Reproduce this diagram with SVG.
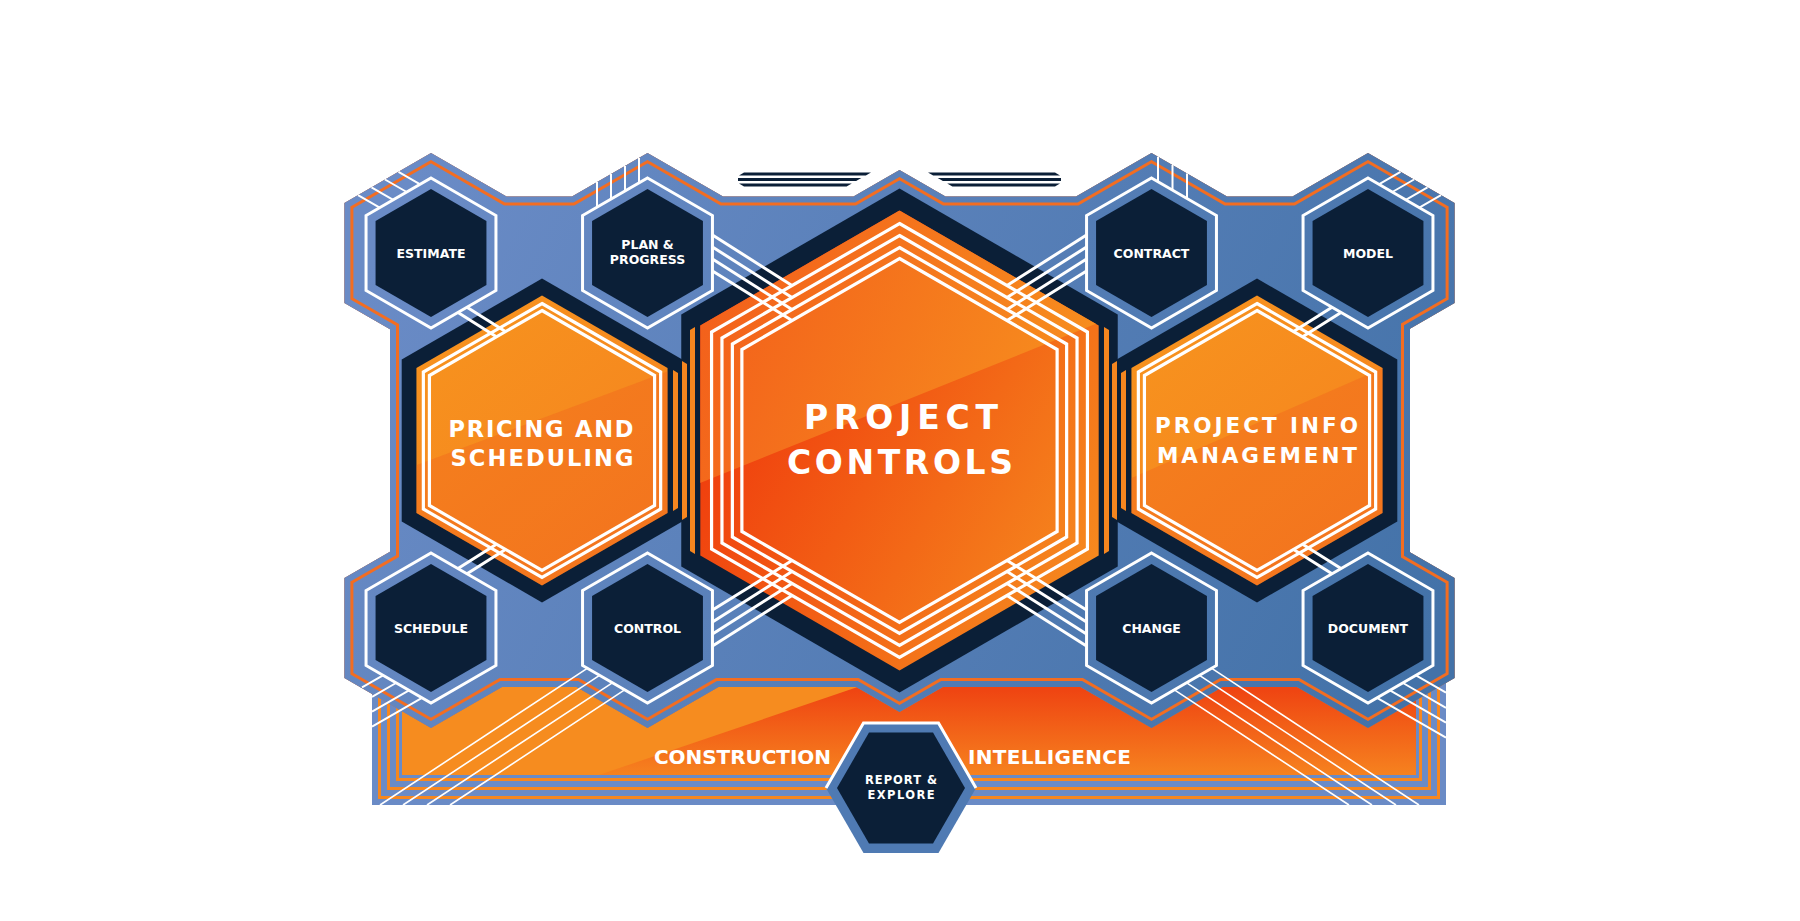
<svg xmlns="http://www.w3.org/2000/svg" xmlns:xlink="http://www.w3.org/1999/xlink" width="1800" height="921" viewBox="0 0 1800 921">
<style>
.navy{fill:#0b1f37}
.ring{fill:none;stroke:#fff;stroke-width:3}
.wl{fill:none;stroke:#fff;stroke-width:3.2}
.cn{fill:none;stroke:#fff;stroke-width:3}
.thin{fill:none;stroke:#fff;stroke-width:1.6}
.deco{fill:none;stroke:#fff;stroke-width:2}
.lbl{font-family:"DejaVu Sans","Liberation Sans",sans-serif;font-weight:bold;fill:#fff;text-anchor:middle}
.s{font-size:12.5px}
.bar{fill:#f6861f}
.pb{fill:#6a8bc6}
.po{fill:#f6871f}
.dash{fill:#0b1f37}
</style>
<defs>
<linearGradient id="gBlue" gradientUnits="userSpaceOnUse" x1="400" y1="200" x2="1400" y2="700">
<stop offset="0" stop-color="#6a8bc6"/><stop offset="1" stop-color="#4372a8"/>
</linearGradient>
<linearGradient id="gMed" x1="0.15" y1="0" x2="0.85" y2="1">
<stop offset="0" stop-color="#f7931e"/><stop offset="1" stop-color="#f5821f"/>
</linearGradient>
<linearGradient id="gCtrLo" x1="0" y1="0.4" x2="0.9" y2="1">
<stop offset="0" stop-color="#ef380c"/><stop offset="1" stop-color="#f68d1f"/>
</linearGradient>
<linearGradient id="gCtrUp" x1="0.1" y1="0.2" x2="1" y2="0.45">
<stop offset="0" stop-color="#f35e1b"/><stop offset="1" stop-color="#f7921e"/>
</linearGradient>
<linearGradient id="gPanel" gradientUnits="userSpaceOnUse" x1="0" y1="690" x2="0" y2="775">
<stop offset="0" stop-color="#ef4512"/><stop offset="1" stop-color="#f6821f"/>
</linearGradient>
<path id="boardPath" d="M431,153 L506.5,196.6 L572,196.6 L647.5,153 L723,196.6 L853.5,196.6 L899.5,170 L945.5,196.6 L1076,196.6 L1151.5,153 L1227,196.6 L1292.5,196.6 L1368,153 L1454.6,203 L1454.6,303 L1410,328.7 L1410,552.2 L1454.6,578 L1454.6,678 L1368,728 L1297,687 L1222.5,687 L1151.5,728 L1080.5,687 L942.8,687 L899.5,712 L856.2,687 L718.5,687 L647.5,728 L576.5,687 L502,687 L431,728 L344.4,678 L344.4,578 L390,551.7 L390,329.3 L344.4,303 L344.4,203 Z"/>
<clipPath id="cBoard"><use xlink:href="#boardPath"/></clipPath>
<polygon id="hO" points="0,-75 64.95,-37.5 64.95,37.5 0,75 -64.95,37.5 -64.95,-37.5"/>
<polygon id="hI" points="0,-64 55.43,-32 55.43,32 0,64 -55.43,32 -55.43,-32"/>
<polygon id="m162" points="0,-162 140.3,-81 140.3,81 0,162 -140.3,81 -140.3,-81"/>
<polygon id="m145" points="0,-145 125.57,-72.5 125.57,72.5 0,145 -125.57,72.5 -125.57,-72.5"/>
<polygon id="m137" points="0,-137 118.65,-68.5 118.65,68.5 0,137 -118.65,68.5 -118.65,-68.5"/>
<polygon id="m130" points="0,-130 112.58,-65 112.58,65 0,130 -112.58,65 -112.58,-65"/>
<clipPath id="cMed"><polygon points="0,-145 125.57,-72.5 125.57,72.5 0,145 -125.57,72.5 -125.57,-72.5"/></clipPath>
<clipPath id="cCtr"><polygon points="0,-230 199.19,-115 199.19,115 0,230 -199.19,115 -199.19,-115"/></clipPath>
</defs>

<rect x="0" y="0" width="1800" height="921" fill="#ffffff"/>

<g id="panel">
<rect class="pb" x="372" y="640" width="1074" height="165"/>
<rect class="po" x="378" y="646" width="1062" height="153"/>
<rect class="pb" x="381" y="649" width="1056" height="147"/>
<rect class="po" x="387" y="655" width="1044" height="135"/>
<rect class="pb" x="390" y="658" width="1038" height="129"/>
<rect class="po" x="396" y="664" width="1026" height="117"/>
<rect class="pb" x="399" y="667" width="1020" height="111"/>
<rect x="402" y="670" width="1014" height="105" fill="url(#gPanel)"/>
<polygon points="402,640 996,640 599,775 402,775" fill="#f68c1f"/>
</g>

<g id="board">
<use xlink:href="#boardPath" fill="url(#gBlue)"/>
<g clip-path="url(#cBoard)">
<use xlink:href="#boardPath" fill="none" stroke="#f36d21" stroke-width="18"/>
<use xlink:href="#boardPath" fill="none" stroke="url(#gBlue)" stroke-width="12"/>
</g>
</g>

<g id="top-dashes">
<polygon class="dash" points="744,172.5 871,172.5 865.8,175.5 739,175.5"/>
<polygon class="dash" points="738,178 861.3,178 856.1,181 738,181"/>
<polygon class="dash" points="739,183.5 851.8,183.5 846.6,186.5 744,186.5"/>
<polygon class="dash" points="1055,172.5 928,172.5 933.2,175.5 1060,175.5"/>
<polygon class="dash" points="1061,178 937.7,178 942.9,181 1061,181"/>
<polygon class="dash" points="1060,183.5 947.2,183.5 952.4,186.5 1055,186.5"/>
</g>

<g id="n-pricing" transform="translate(542,440.5)">
<use xlink:href="#m162" class="navy"/>
<use xlink:href="#m145" fill="url(#gMed)"/>
<polygon points="-150,33.7 150,-78.2 150,170 -150,170" fill="#ee4a1c" opacity="0.25" clip-path="url(#cMed)"/>
<use xlink:href="#m137" class="wl"/>
<use xlink:href="#m130" class="wl"/>
<text class="lbl" x="-1" y="-4" font-size="22.5" textLength="185">PRICING AND</text>
<text class="lbl" x="0" y="25.5" font-size="22.5" textLength="183">SCHEDULING</text>
</g>

<g id="n-project-controls" transform="translate(899.5,440.5)">
<polygon class="navy" points="0,-252 218.24,-126 218.24,126 0,252 -218.24,126 -218.24,-126"/>
<polygon points="0,-230 199.19,-115 199.19,115 0,230 -199.19,115 -199.19,-115" fill="url(#gCtrLo)"/>
<polygon points="-240,58.8 240,-134.2 240,-260 -240,-260" fill="url(#gCtrUp)" clip-path="url(#cCtr)"/>
<polygon class="wl" points="0,-217 187.93,-108.5 187.93,108.5 0,217 -187.93,108.5 -187.93,-108.5"/>
<polygon class="wl" points="0,-205 177.54,-102.5 177.54,102.5 0,205 -177.54,102.5 -177.54,-102.5"/>
<polygon class="wl" points="0,-193 167.14,-96.5 167.14,96.5 0,193 -167.14,96.5 -167.14,-96.5"/>
<polygon class="wl" points="0,-182 157.62,-91 157.62,91 0,182 -157.62,91 -157.62,-91"/>
<text class="lbl" x="1.5" y="-11.5" font-size="33" textLength="194">PROJECT</text>
<text class="lbl" x="0.5" y="33.5" font-size="33" textLength="226">CONTROLS</text>
</g>

<g id="n-pim" transform="translate(1257,440.5)">
<use xlink:href="#m162" class="navy"/>
<use xlink:href="#m145" fill="url(#gMed)"/>
<polygon points="-150,48.3 150,-83 150,170 -150,170" fill="#ee4a1c" opacity="0.25" clip-path="url(#cMed)"/>
<use xlink:href="#m137" class="wl"/>
<use xlink:href="#m130" class="wl"/>
<text class="lbl" x="-0.5" y="-7.5" font-size="21.5" textLength="203">PROJECT INFO</text>
<text class="lbl" x="0" y="22.2" font-size="21.5" textLength="200">MANAGEMENT</text>
</g>

<g id="side-bars">
<polygon class="bar" points="673,370 678,373 678,508 673,511"/>
<polygon class="bar" points="682,361 687,364 687,517 682,520"/>
<polygon class="bar" points="690,330 695,327 695,554 690,551"/>
<polygon class="bar" points="1126,370 1121,373 1121,508 1126,511"/>
<polygon class="bar" points="1117,361 1112,364 1112,517 1117,520"/>
<polygon class="bar" points="1109,330 1104,327 1104,554 1109,551"/>
</g>

<g id="connectors">
<path class="cn" d="M712.5,235 L792,285.5 M712.5,247 L792,297.5 M712.5,259 L792,309.5 M712.5,271 L792,320.5"/>
<path class="cn" d="M1086.5,235 L1007,285.5 M1086.5,247 L1007,297.5 M1086.5,259 L1007,309.5 M1086.5,271 L1007,320.5"/>
<path class="cn" d="M712.5,646 L792,595.5 M712.5,634 L792,583.5 M712.5,622 L792,571.5 M712.5,610 L792,560.5"/>
<path class="cn" d="M1086.5,646 L1007,595.5 M1086.5,634 L1007,583.5 M1086.5,622 L1007,571.5 M1086.5,610 L1007,560.5"/>
<path class="cn" d="M458,312.4 L496,336.5 M467,307.2 L505.4,331.6"/>
<path class="cn" d="M458,568.6 L496,544.5 M467,573.8 L505.4,549.4"/>
<path class="cn" d="M1341,312.4 L1303,336.5 M1332,307.2 L1293.6,331.6"/>
<path class="cn" d="M1341,568.6 L1303,544.5 M1332,573.8 L1293.6,549.4"/>
<path class="thin" d="M587.2,668.3 L380,805 M599.5,675.4 L403,805 M612.3,682.8 L427,805 M624.6,689.9 L450,805"/>
<path class="thin" d="M1211.8,668.3 L1419,805 M1199.5,675.4 L1396,805 M1186.7,682.8 L1372,805 M1174.4,689.9 L1349,805"/>
<path class="deco" d="M358,195.1 L379.7,207.6 M371.5,187.3 L393.2,199.8 M385,179.5 L406.7,192 M398.5,171.8 L420.2,184.3"/>
<path class="deco" d="M1441,195.1 L1419.3,207.6 M1427.5,187.3 L1405.8,199.8 M1414,179.5 L1392.3,192 M1400.5,171.8 L1378.8,184.3"/>
<path class="deco" d="M597,182.1 L597,207.1 M611,174.1 L611,199.1 M625,166 L625,191 M639,157.9 L639,182.9"/>
<path class="deco" d="M1158,156.8 L1158,181.8 M1172.5,165.1 L1172.5,190.1 M1187,173.5 L1187,198.5"/>
<path class="deco" d="M383,675.3 L362,687.4 M396,683 L372,696.8 M409,690.3 L372,711.6 M422,697.8 L372,726.6"/>
<path class="deco" d="M1416,675.3 L1446,692.6 M1403,683 L1446,707.8 M1390,690.3 L1446,722.6 M1377,697.8 L1446,737.6"/>
</g>

<g id="n-estimate" transform="translate(431,253)">
<use xlink:href="#hO" class="ring"/><use xlink:href="#hI" class="navy"/>
<text class="lbl s" y="4.5">ESTIMATE</text>
</g>
<g id="n-plan" transform="translate(647.5,253)">
<use xlink:href="#hO" class="ring"/><use xlink:href="#hI" class="navy"/>
<text class="lbl s" y="-4">PLAN &amp;</text>
<text class="lbl s" y="11">PROGRESS</text>
</g>
<g id="n-contract" transform="translate(1151.5,253)">
<use xlink:href="#hO" class="ring"/><use xlink:href="#hI" class="navy"/>
<text class="lbl s" y="4.5">CONTRACT</text>
</g>
<g id="n-model" transform="translate(1368,253)">
<use xlink:href="#hO" class="ring"/><use xlink:href="#hI" class="navy"/>
<text class="lbl s" y="4.5">MODEL</text>
</g>
<g id="n-schedule" transform="translate(431,628)">
<use xlink:href="#hO" class="ring"/><use xlink:href="#hI" class="navy"/>
<text class="lbl s" y="4.5">SCHEDULE</text>
</g>
<g id="n-control" transform="translate(647.5,628)">
<use xlink:href="#hO" class="ring"/><use xlink:href="#hI" class="navy"/>
<text class="lbl s" y="4.5">CONTROL</text>
</g>
<g id="n-change" transform="translate(1151.5,628)">
<use xlink:href="#hO" class="ring"/><use xlink:href="#hI" class="navy"/>
<text class="lbl s" y="4.5">CHANGE</text>
</g>
<g id="n-document" transform="translate(1368,628)">
<use xlink:href="#hO" class="ring"/><use xlink:href="#hI" class="navy"/>
<text class="lbl s" y="4.5">DOCUMENT</text>
</g>

<g id="panel-title">
<text class="lbl" x="831" y="764" font-size="20" text-anchor="end" style="text-anchor:end" textLength="177">CONSTRUCTION</text>
<text class="lbl" x="968" y="764" font-size="20" style="text-anchor:start" textLength="163">INTELLIGENCE</text>
</g>

<g id="n-report" transform="translate(901,788)">
<polygon points="75,0 37.5,65 -37.5,65 -75,0 -37.5,-65 37.5,-65" fill="#4f7ab3"/>
<polyline points="-75,0 -37.5,-65 37.5,-65 75,0" fill="none" stroke="#fff" stroke-width="3"/>
<polygon class="navy" points="64,0 32,55.4 -32,55.4 -64,0 -32,-55.4 32,-55.4"/>
<text class="lbl" y="-4" font-size="11.5" textLength="72">REPORT &amp;</text>
<text class="lbl" y="11.3" font-size="11.5" textLength="67">EXPLORE</text>
</g>
</svg>
